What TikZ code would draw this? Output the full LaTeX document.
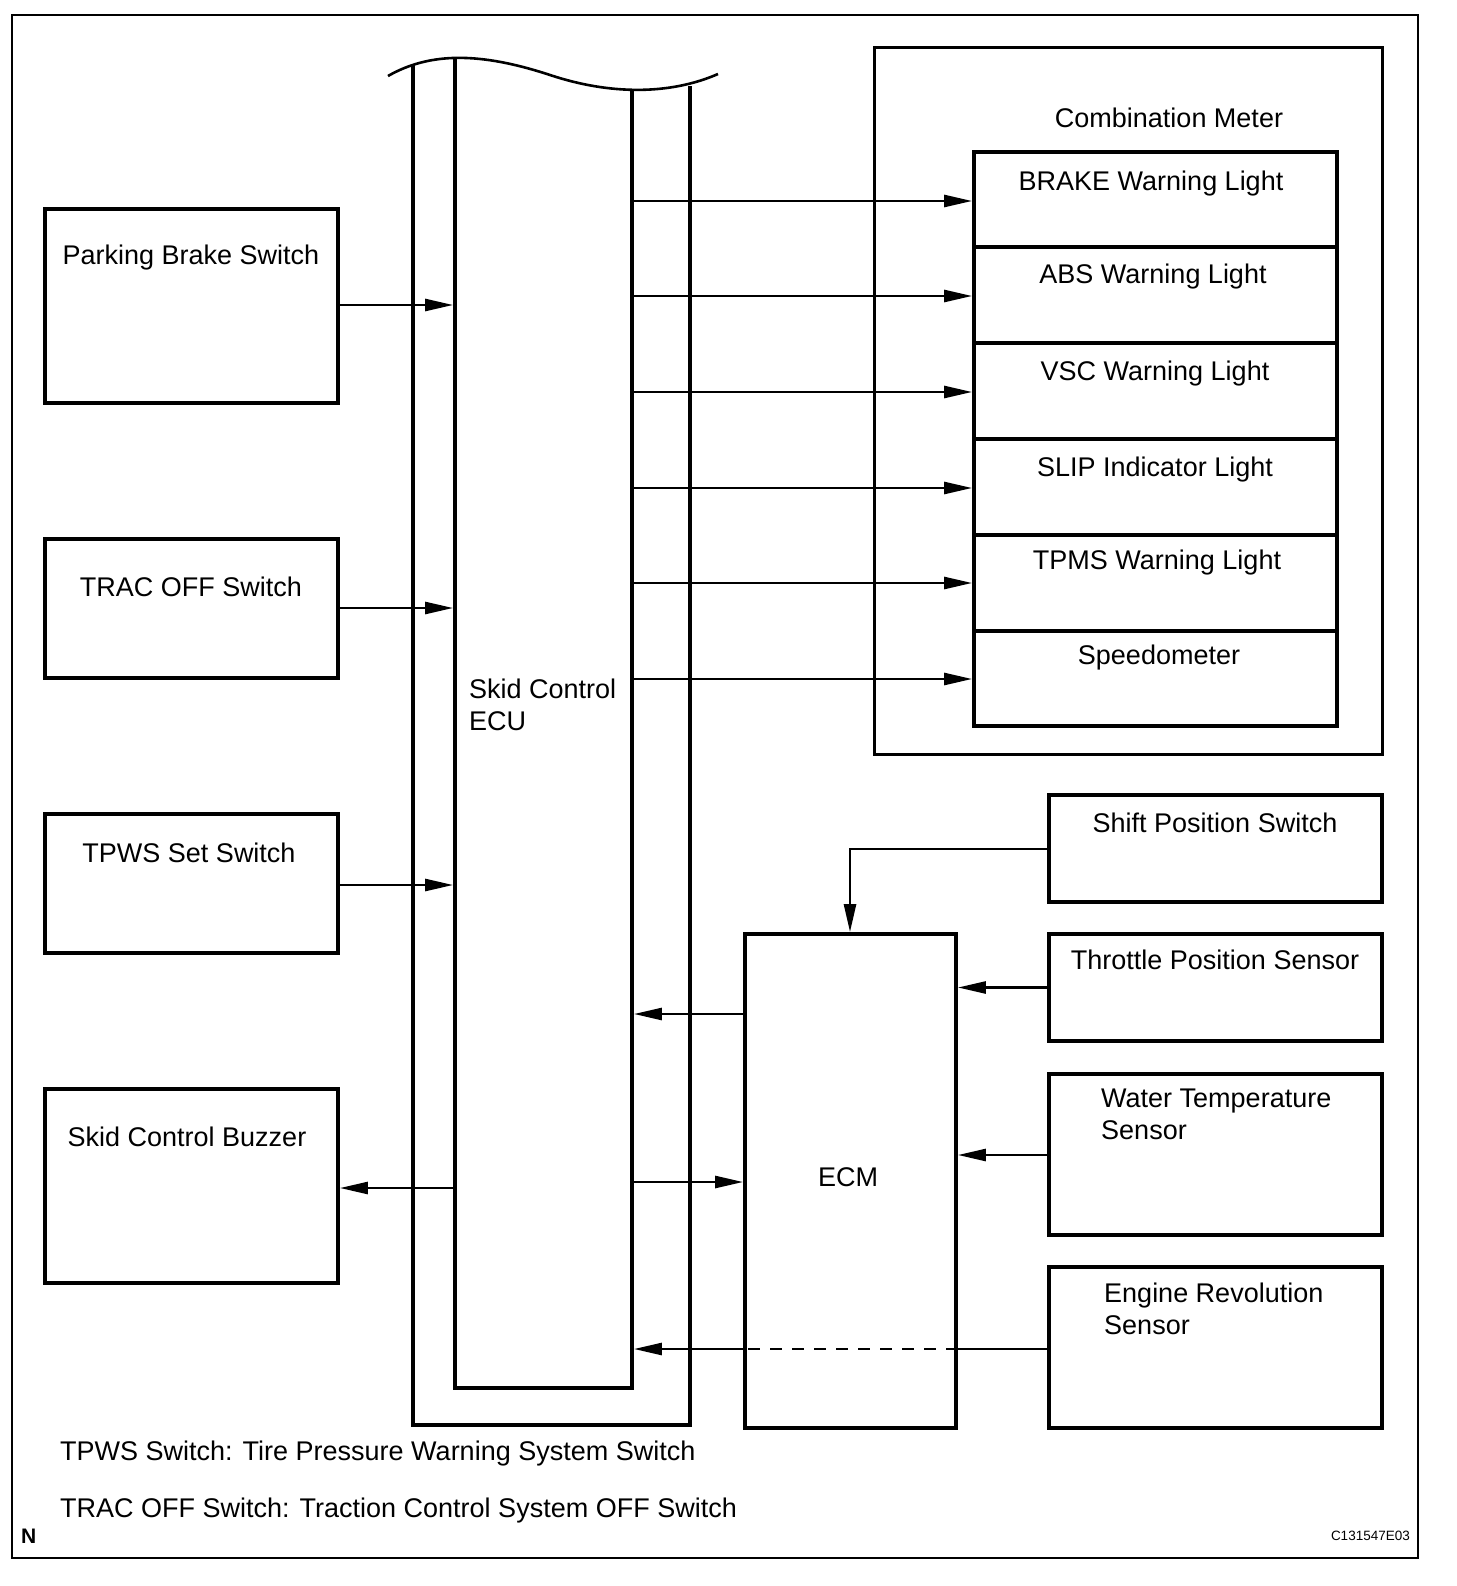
\documentclass[tikz,border=0pt]{standalone}
\usepackage{fontspec}
\setmainfont{Liberation Sans}
\usetikzlibrary{arrows.meta}
\begin{document}
\begin{tikzpicture}[x=1pt,y=-1pt,
  box/.style={draw,line width=3.8pt,rectangle,inner sep=0pt},
  ghost/.style={draw=none,line width=3.8pt,rectangle,inner sep=0pt},
  lbl/.style={font=\fontsize{27}{32}\selectfont,inner sep=0pt,anchor=base},
  lbll/.style={font=\fontsize{27}{32}\selectfont,inner sep=0pt,anchor=base west,align=left},
  conn/.style={line width=2.6pt},
  arr/.style={line width=2.6pt,-{Triangle[length=28pt,width=12pt]}}]
\draw[line width=2.5pt] (12,15) rectangle (1418,1558);

% left switches
\node[box,minimum width=293pt,minimum height=194pt] (pb) at (191.5,306) {};
\node[lbl] (pbt) at (191,265) {Parking Brake Switch};
\node[box,minimum width=293pt,minimum height=139pt] (trac) at (191.5,608.5) {};
\node[lbl] (tract) at (191,596) {TRAC OFF Switch};
\node[box,minimum width=293pt,minimum height=139pt] (tpws) at (191.5,883.5) {};
\node[lbl] (tpwst) at (189,862) {TPWS Set Switch};
\node[box,minimum width=293pt,minimum height=194pt] (buzz) at (191.5,1186) {};
\node[lbl] (buzzt) at (187,1146) {Skid Control Buzzer};

% Skid Control ECU
\draw[line width=2.6pt] (388,76) .. controls (430,52) and (480,52) .. (550,75) .. controls (610,95) and (670,95) .. (718,74);
\draw[line width=3.8pt] (413,64) -- (413,1425) -- (690,1425) -- (690,86);
\draw[line width=3.8pt] (455,57) -- (455,1388) -- (632,1388) -- (632,91);
\node[ghost,minimum width=177pt,minimum height=1331pt] (ecu) at (543.5,722.5) {};
\node[lbll] (ecut) at (469,730) {Skid Control\\ECU};

% Combination meter
\node[box,line width=3pt,minimum width=508pt,minimum height=706pt] (cm) at (1128,401) {};
\node[lbl] (cmt) at (1169,128) {Combination Meter};
\node[box,minimum width=363pt,minimum height=95pt] (l1) at (1155.5,199.5) {};
\node[box,minimum width=363pt,minimum height=96pt] (l2) at (1155.5,295) {};
\node[box,minimum width=363pt,minimum height=96pt] (l3) at (1155.5,391) {};
\node[box,minimum width=363pt,minimum height=96pt] (l4) at (1155.5,487) {};
\node[box,minimum width=363pt,minimum height=96pt] (l5) at (1155.5,583) {};
\node[box,minimum width=363pt,minimum height=95pt] (l6) at (1155.5,678.5) {};
\node[lbl] (l1t) at (1151,191) {BRAKE Warning Light};
\node[lbl] (l2t) at (1153,284) {ABS Warning Light};
\node[lbl] (l3t) at (1155,380) {VSC Warning Light};
\node[lbl] (l4t) at (1155,476) {SLIP Indicator Light};
\node[lbl] (l5t) at (1157,569) {TPMS Warning Light};
\node[lbl] (l6t) at (1159,664) {Speedometer};

% ECM and sensors
\node[box,minimum width=211pt,minimum height=494pt] (ecm) at (850.5,1181) {};
\node[lbl] (ecmt) at (848,1186) {ECM};
\node[box,minimum width=333pt,minimum height=107pt] (sps) at (1215.5,848.5) {};
\node[lbl] (spst) at (1215,832) {Shift Position Switch};
\node[box,minimum width=333pt,minimum height=107pt] (tps) at (1215.5,987.5) {};
\node[lbl] (tpst) at (1215,969) {Throttle Position Sensor};
\node[box,minimum width=333pt,minimum height=161pt] (wts) at (1215.5,1154.5) {};
\node[lbll] (wtst) at (1101,1139) {Water Temperature\\Sensor};
\node[box,minimum width=333pt,minimum height=161pt] (ers) at (1215.5,1347.5) {};
\node[lbll] (erst) at (1104,1334) {Engine Revolution\\Sensor};

% connectors: switches -> ECU
\draw[arr] (pb.east |- 0,305) -- (ecu.west |- 0,305);
\draw[arr] (trac.east |- 0,608) -- (ecu.west |- 0,608);
\draw[arr] (tpws.east |- 0,885) -- (ecu.west |- 0,885);
\draw[arr] (ecu.west |- 0,1188) -- (buzz.east |- 0,1188);

% ECU -> lights
\draw[arr] (ecu.east |- 0,201) -- (l1.west |- 0,201);
\draw[arr] (ecu.east |- 0,296) -- (l2.west |- 0,296);
\draw[arr] (ecu.east |- 0,392) -- (l3.west |- 0,392);
\draw[arr] (ecu.east |- 0,488) -- (l4.west |- 0,488);
\draw[arr] (ecu.east |- 0,583) -- (l5.west |- 0,583);
\draw[arr] (ecu.east |- 0,679) -- (l6.west |- 0,679);

% ECM connections
\coordinate (bend) at (850,849);
\draw[arr] (sps.west |- bend) -- (bend) -- (bend |- ecm.north);
\draw[arr] (tps.west) -- (ecm.east |- tps.west);
\draw[arr] (wts.west |- 0,1155) -- (ecm.east |- 0,1155);
\draw[arr] (ecm.west |- 0,1014) -- (ecu.east |- 0,1014);
\draw[arr] (ecu.east |- 0,1182) -- (ecm.west |- 0,1182);
\draw[conn] (ers.west |- 0,1349) -- (ecm.east |- 0,1349);
\draw[conn,dash pattern=on 12pt off 10pt] (ecm.east |- 0,1349) -- (ecm.west |- 0,1349);
\draw[arr] (ecm.west |- 0,1349) -- (ecu.east |- 0,1349);

% notes
\node[lbll] (n1) at (60,1460) {TPWS Switch: Tire Pressure Warning System Switch};
\node[lbll] (n2) at (60,1517) {TRAC OFF Switch: Traction Control System OFF Switch};
\node[font=\fontsize{21}{24}\selectfont\bfseries,inner sep=0pt,anchor=base west] (nn) at (21,1543) {N};
\node[font=\fontsize{13.5}{16}\selectfont,inner sep=0pt,anchor=base east] (code) at (1410,1540) {C131547E03};
\pgfresetboundingbox
\useasboundingbox (0,0) rectangle (1456,1586);
\end{tikzpicture}
\end{document}
